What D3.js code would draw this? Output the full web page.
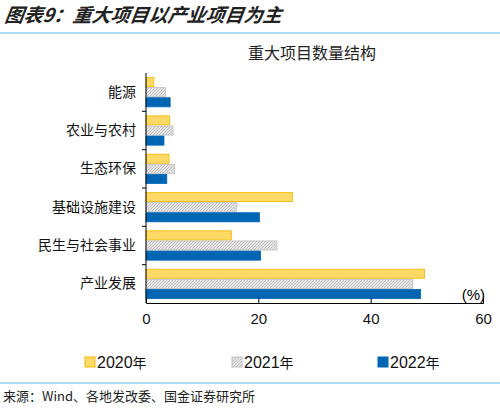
<!DOCTYPE html><html><head><meta charset="utf-8"><script src="https://cdn.jsdelivr.net/npm/d3@7"></script>
<style>body{margin:0;background:#fff}</style></head><body><svg id="c" width="500" height="410"></svg>
<script>
const categories=["能源","农业与农村","生态环保","基础设施建设","民生与社会事业","产业发展"];
const series=["2020年","2021年","2022年"];
const v2020=[1.4,4.2,4.1,26.1,15.2,49.6];
const v2021=[3.5,4.8,5.1,16.1,23.3,47.5];
const v2022=[4.3,3.2,3.7,20.2,20.4,48.9];
const xTicks=[0,20,40,60];
const vals=[v2020,v2021,v2022];
const fills=["#ffd966","url(#hatch)","#0066b3"];
const strokes=["#f5b800","#bfbfbf","#0066b3"];
const svg=d3.select("#c");
const defs=svg.append("defs");
const p=defs.append("pattern").attr("id","hatch").attr("width",3).attr("height",3).attr("patternUnits","userSpaceOnUse");
p.append("rect").attr("width",3).attr("height",3).attr("fill","#e6e6e6");
p.append("path").attr("d","M0,3L3,0").attr("stroke","#b0b0b0").attr("stroke-width",0.7);
const f="'Noto Sans CJK SC',sans-serif";
svg.append("text").attr("x",4).attr("y",22).attr("font-family",f).attr("font-size",19).attr("font-weight","bold").attr("font-style","italic").attr("fill","#222").attr("transform","skewX(-8) translate(3,0)").text("图表9：重大项目以产业项目为主");
svg.append("line").attr("x1",0).attr("x2",500).attr("y1",33).attr("y2",33).attr("stroke","#8fd0ea").attr("stroke-width",1.5);
svg.append("text").attr("x",312).attr("y",59).attr("text-anchor","middle").attr("font-family",f).attr("font-size",16).attr("fill","#222").text("重大项目数量结构");
const x=d3.scaleLinear().domain([0,60]).range([146,483]);
const y=d3.scaleBand().domain(categories).range([73,303]);
const sub=d3.scaleBand().domain([0,1,2]).range([4,y.bandwidth()-4]);
const g=svg.append("g");
vals.forEach((arr,si)=>{
 g.selectAll(null).data(arr).join("rect")
  .attr("x",x(0)).attr("y",(d,i)=>y(categories[i])+sub(si)+0.5).attr("height",sub.bandwidth()-1)
  .attr("width",d=>x(d)-x(0)).attr("fill",fills[si]).attr("stroke",strokes[si]).attr("stroke-width",0.8);
});
const ax=svg.append("g").attr("transform","translate(0,303)").call(d3.axisBottom(x).tickValues(xTicks).tickSize(-5).tickPadding(10).tickFormat(d3.format("d")));
ax.selectAll("text").attr("font-family","Liberation Sans,Arial").attr("font-size",15).attr("fill","#111");
ax.select(".domain").attr("stroke","#000");
const ay=svg.append("g").attr("transform","translate(146,0)").call(d3.axisLeft(y).tickSize(0).tickPadding(10));
ay.selectAll("text").attr("font-family",f).attr("font-size",14).attr("fill","#111");
ay.select(".domain").attr("stroke","#000").attr("d","M0,73V303");
svg.append("g").selectAll("line").data(categories.slice(1)).join("line").attr("x1",142).attr("x2",146).attr("y1",d=>y(d)).attr("y2",d=>y(d)).attr("stroke","#000");
svg.append("text").attr("x",485).attr("y",300).attr("text-anchor","end").attr("font-family","Liberation Sans,Arial").attr("font-size",15).text("(%)");
const lx=[85,232,378];
series.forEach((s,i)=>{
 svg.append("rect").attr("x",lx[i]).attr("y",357).attr("width",10).attr("height",10).attr("fill",fills[i]).attr("stroke",strokes[i]);
 svg.append("text").attr("x",lx[i]+12).attr("y",368).attr("font-family","Liberation Sans,Arial").attr("font-size",16).attr("fill","#111")
  .text(s.slice(0,4)).append("tspan").attr("font-family",f).attr("font-size",14).text("年");
});
svg.append("line").attr("x1",0).attr("x2",500).attr("y1",383).attr("y2",383).attr("stroke","#8fd0ea").attr("stroke-width",1.5);
svg.append("text").attr("x",3).attr("y",401).attr("font-family",f).attr("font-size",13).attr("fill","#222").text("来源：Wind、各地发改委、国金证券研究所");
</script></body></html>
